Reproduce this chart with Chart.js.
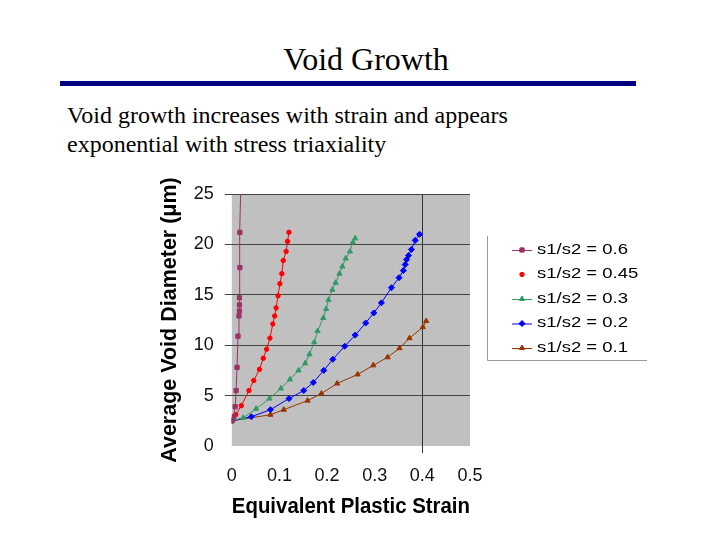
<!DOCTYPE html>
<html>
<head>
<meta charset="utf-8">
<script src="https://cdn.jsdelivr.net/npm/chart.js@4.4.1/dist/chart.umd.min.js"></script>
<style>
  body { margin: 0; background: #fff; width: 720px; height: 540px; position: relative; overflow: hidden; }
  .serif { font-family: "Liberation Serif", "Times New Roman", serif; color: #000; position: absolute; }
  #title { left: 0; width: 732px; top: 43px; text-align: center; font-size: 32px; line-height: 32px; }
  #rule { position: absolute; left: 60px; top: 81px; width: 576px; height: 5px; background: #000080; }
  #sub { left: 67px; top: 101px; font-size: 24px; line-height: 29px; }
  #wrap { position: absolute; left: 150px; top: 170px; width: 510px; height: 353px; }
</style>
</head>
<body>
<div id="title" class="serif">Void Growth</div>
<div id="rule"></div>
<div id="sub" class="serif">Void growth increases with strain and appears<br>exponential with stress triaxiality</div>
<div id="wrap"><canvas id="voidChart"></canvas></div>

<script>
  // values (strain, diameter in um)
  let seriesNames = ['s1/s2 = 0.6', 's1/s2 = 0.45', 's1/s2 = 0.3', 's1/s2 = 0.2', 's1/s2 = 0.1']
  let xTicks = [0, 0.1, 0.2, 0.3, 0.4, 0.5]
  let yTicks = [0, 5, 10, 15, 20, 25]

  let strain06 = [0, 0.004, 0.007, 0.009, 0.011, 0.013, 0.015, 0.016, 0.016, 0.016, 0.017, 0.017, 0.019]
  let diam06   = [2.5, 2.9, 3.9, 5.5, 7.8, 10.9, 12.9, 13.4, 14.0, 14.7, 17.7, 21.2, 26]

  let strain045 = [0, 0.008, 0.020, 0.036, 0.046, 0.058, 0.066, 0.073, 0.080, 0.086, 0.090, 0.093, 0.097, 0.101, 0.105, 0.108, 0.114, 0.117, 0.120]
  let diam045   = [2.5, 3.1, 4.0, 5.5, 6.5, 7.6, 8.7, 9.6, 10.7, 12.1, 12.9, 13.7, 14.9, 16.1, 17.1, 18.4, 19.3, 20.3, 21.2]

  let strain03 = [0, 0.024, 0.051, 0.079, 0.103, 0.122, 0.140, 0.154, 0.163, 0.173, 0.180, 0.192, 0.198, 0.203, 0.211, 0.218, 0.226, 0.232, 0.239, 0.248, 0.254, 0.259]
  let diam03   = [2.5, 2.8, 3.7, 4.7, 5.7, 6.6, 7.5, 8.2, 9.1, 10.3, 11.4, 12.7, 13.6, 14.5, 15.5, 16.2, 17.1, 17.8, 18.6, 19.3, 20.2, 20.6]

  let strain02 = [0, 0.041, 0.081, 0.120, 0.151, 0.171, 0.193, 0.212, 0.237, 0.259, 0.281, 0.298, 0.314, 0.335, 0.351, 0.360, 0.364, 0.367, 0.371, 0.377, 0.385, 0.394]
  let diam02   = [2.5, 2.9, 3.6, 4.7, 5.5, 6.3, 7.5, 8.6, 9.9, 11.0, 12.2, 13.2, 14.2, 15.7, 16.7, 17.4, 18.0, 18.5, 18.9, 19.5, 20.4, 21.0]

  let strain01 = [0, 0.081, 0.109, 0.159, 0.188, 0.221, 0.264, 0.297, 0.327, 0.352, 0.373, 0.401, 0.408]
  let diam01   = [2.5, 3.1, 3.6, 4.5, 5.2, 6.2, 7.1, 8.0, 8.8, 9.7, 10.7, 11.8, 12.4]

  let colors = ['#993366', '#ff0000', '#339966', '#0000ff', '#993300']
  let markers = ['rect', 'circle', 'triangle', 'rectRot', 'triangle']
  let sizes = [3, 2.2, 3, 3, 3]

  const pairs = (xs, ys) => xs.map((x, i) => ({ x: x, y: ys[i] }))
  let allData = [
    pairs(strain06, diam06),
    pairs(strain045, diam045),
    pairs(strain03, diam03),
    pairs(strain02, diam02),
    pairs(strain01, diam01)
  ]

  // grey plot background
  const plotBg = {
    id: 'plotBg',
    beforeDraw(chart) {
      const a = chart.chartArea
      const c = chart.ctx
      c.save()
      c.fillStyle = '#c0c0c0'
      c.fillRect(a.left, a.top, a.right - a.left, a.bottom - a.top)
      c.restore()
    }
  }

  // legend box on the right, line + marker like the original
  const sideLegend = {
    id: 'sideLegend',
    afterDraw(chart) {
      const c = chart.ctx
      const left = 337, top = 66, right = 497, bottom = 190
      c.save()
      c.strokeStyle = '#999'
      c.lineWidth = 1
      c.beginPath()
      c.moveTo(left + 0.5, top)
      c.lineTo(left + 0.5, bottom + 0.5)
      c.lineTo(right, bottom + 0.5)
      c.stroke()
      c.textBaseline = 'middle'
      chart.data.datasets.forEach((ds, i) => {
        const y = 80 + i * 24.5
        if (i !== 1) {
          c.strokeStyle = ds.borderColor
          c.beginPath()
          c.moveTo(362, y + 0.5)
          c.lineTo(382, y + 0.5)
          c.stroke()
        }
        c.fillStyle = ds.borderColor
        c.strokeStyle = ds.borderColor
        Chart.helpers.drawPoint(c, { pointStyle: ds.pointStyle, radius: ds.pointRadius, rotation: 0, borderWidth: 1 }, 372, y)
        // the original text is stretched sideways
        c.save()
        c.translate(387, y)
        c.scale(1.32, 1)
        c.font = '14px Arial, "Liberation Sans", sans-serif'
        c.fillStyle = '#000'
        c.fillText(ds.label, 0, 0)
        c.restore()
      })
      c.restore()
    }
  }

  const ctx = document.getElementById('voidChart')

  new Chart(ctx, {
    type: 'scatter',
    data: {
      datasets: seriesNames.map((name, i) => ({
        label: name,
        data: allData[i],
        showLine: true,
        borderColor: colors[i],
        backgroundColor: colors[i],
        borderWidth: 1,
        pointStyle: markers[i],
        pointRadius: sizes[i],
        pointBorderWidth: 1,
        tension: 0
      }))
    },
    options: {
      responsive: true,
      maintainAspectRatio: false,
      animation: false,
      events: [],
      layout: { padding: { left: 3, top: 24, right: 190, bottom: 2.6 } },
      plugins: {
        legend: { display: false },
        tooltip: { enabled: false }
      },
      scales: {
        x: {
          type: 'linear',
          min: xTicks[0],
          max: xTicks[xTicks.length - 1],
          border: { display: false },
          afterBuildTicks: (axis) => { axis.ticks = xTicks.map(v => ({ value: v })) },
          grid: {
            color: (c) => (c.tick && Math.abs(c.tick.value - 0.4) < 1e-6) ? '#333' : 'rgba(0,0,0,0)',
            tickLength: 7,
            lineWidth: 1
          },
          ticks: {
            padding: 12,
            color: '#111',
            font: { family: 'Arial, "Liberation Sans", sans-serif', size: 18 },
            callback: (v) => String(v)
          },
          title: {
            display: true,
            text: 'Equivalent Plastic Strain',
            color: '#000',
            padding: { top: -4, bottom: 0 },
            font: { family: 'Arial, "Liberation Sans", sans-serif', size: 21.5, weight: 'bold' }
          }
        },
        y: {
          type: 'linear',
          min: yTicks[0],
          max: yTicks[yTicks.length - 1],
          border: { display: false },
          afterBuildTicks: (axis) => { axis.ticks = yTicks.map(v => ({ value: v })) },
          grid: {
            color: (c) => (c.tick && c.tick.value > 0) ? '#444' : 'rgba(0,0,0,0)',
            tickLength: 7,
            lineWidth: 1
          },
          ticks: {
            padding: 11,
            color: '#111',
            font: { family: 'Arial, "Liberation Sans", sans-serif', size: 18 }
          },
          title: {
            display: true,
            text: 'Average Void Diameter (μm)',
            color: '#000',
            padding: { top: 4, bottom: 0 },
            font: { family: 'Arial, "Liberation Sans", sans-serif', size: 21.5, weight: 'bold' }
          }
        }
      }
    },
    plugins: [plotBg, sideLegend]
  })
</script>
</body>
</html>
